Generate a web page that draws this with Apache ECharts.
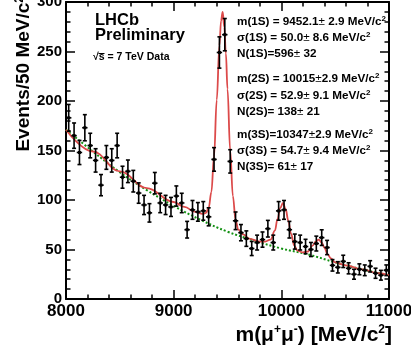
<!DOCTYPE html>
<html>
<head>
<meta charset="utf-8">
<script src="https://cdn.jsdelivr.net/npm/echarts/dist/echarts.min.js"></script>
<style>
html,body{margin:0;padding:0;background:#fff;}
#chart{width:411px;height:353px;}
</style>
</head>
<body>
<div id="chart"></div>
<script>
// ---- data ----
const binCenters = [8025,8075,8125,8175,8225,8275,8325,8375,8425,8475,8525,8575,8625,8675,8725,8775,8825,8875,8925,8975,
  9025,9075,9125,9175,9225,9275,9325,9375,9425,9475,9525,9575,9625,9675,9725,9775,9825,9875,9925,9975,
  10025,10075,10125,10175,10225,10275,10325,10375,10425,10475,10525,10575,10625,10675,10725,10775,10825,10875,10925,10975];
const events = [183,165,148,173,155,140,115,143,140,155,123,129,119,107,95,87,117,97,95,93,
  104,97,70,90,88,89,83,141,249,267,139,79,67,61,51,57,60,71,57,89,
  90,70,58,57,53,50,56,62,52,34,32,38,31,25,30,29,33,26,24,29];
const errors = [13.5,12.8,12.2,13.2,12.4,11.8,10.7,12.0,11.8,12.4,11.1,11.4,10.9,10.3,9.7,9.3,10.8,9.8,9.7,9.6,
  10.2,9.8,8.4,9.5,9.4,9.4,9.1,11.9,15.8,16.3,11.8,8.9,8.2,7.8,7.1,7.5,7.7,8.4,7.5,9.4,
  9.5,8.4,7.6,7.5,7.3,7.1,7.5,7.9,7.2,5.8,5.7,6.2,5.6,5.0,5.5,5.4,5.7,5.1,4.9,5.4];
const binHalfWidth = 25;

const fitMass = [8000,8250,8500,8750,9000,9100,9200,9270,9300,9325,9350,9375,9400,9425,9440,9455,9470,9485,9500,9525,9550,9575,9600,9650,9700,9800,9850,9900,9940,9965,9990,10015,10040,10065,10090,10120,10150,10200,10250,10290,10320,10347,10375,10400,10430,10460,10500,10600,10750,10900,11000];
const fitVals = [171,149,129,112,98,93,88,86,87,92,108,144,201,256,281,290,275,248,212,150,104,80,70,65,61,58,58,60,69,81,92,97,91,79,66,54,49,47,48,54,58,60,57,52,45,41,37,34,30,26,24];

const bkgMass = [8000,8250,8500,8750,9000,9250,9500,9750,10000,10250,10500,10750,11000];
const bkgVals = [171,149,128,110,94,80,68,59,51,45,37,30,24];

const xTicks = {min: 8000, max: 11000, step: 1000};
const yTicks = {min: 0, max: 300, step: 50};

const fitTexts = [
  'm(1S) = 9452.1{pm|±} 2.9 MeV/c{sup|2}',
  'σ(1S) = 50.0{pm|±} 8.6 MeV/c{sup|2}',
  'N(1S)=596{pm|±} 32',
  'm(2S) = 10015{pm|±}2.9 MeV/c{sup|2}',
  'σ(2S) = 52.9{pm|±} 9.1 MeV/c{sup|2}',
  'N(2S)= 138{pm|±} 21',
  'm(3S)=10347{pm|±}2.9 MeV/c{sup|2}',
  'σ(3S) = 54.7{pm|±} 9.4 MeV/c{sup|2}',
  'N(3S)= 61{pm|±} 17'
];
// ---------------------------------------

const FONT = '"Liberation Sans", Arial, Helvetica, sans-serif';
const chart = echarts.init(document.getElementById('chart'), null, {renderer: 'canvas'});

const pointData = binCenters.map((m, i) => [m, events[i], errors[i]]);
const fitData = fitMass.map((m, i) => [m, fitVals[i]]);
const bkgData = bkgMass.map((m, i) => [m, bkgVals[i]]);

function axisCommon(showLabel, fontSize) {
  return {
    axisLine: {show: true, onZero: false, lineStyle: {color: '#000', width: 2}},
    axisTick: {show: true, inside: true, length: 9, lineStyle: {color: '#000', width: 1.5}},
    minorTick: {show: true, splitNumber: 5, length: 4.5, lineStyle: {color: '#000', width: 1.5}},
    splitLine: {show: false},
    minorSplitLine: {show: false},
    axisLabel: {show: showLabel, color: '#000', fontFamily: FONT, fontWeight: 'bold', fontSize: fontSize, margin: 4,
      formatter: function (v) { return String(v); }}
  };
}

const graphics = [
  {type: 'text', left: 95, top: 12, style: {text: 'LHCb', font: 'bold 16.5px ' + FONT, fill: '#000'}},
  {type: 'text', left: 95, top: 27, style: {text: 'Preliminary', font: 'bold 16.5px ' + FONT, fill: '#000'}},
  {type: 'text', left: 93, top: 52, style: {text: '√s = 7 TeV Data', font: 'bold 10.5px ' + FONT, fill: '#000'}},
  {type: 'line', shape: {x1: 98.5, y1: 53.5, x2: 104.5, y2: 53.5}, style: {stroke: '#000', lineWidth: 1}}
];
const fitY = [22, 38, 54, 79, 96, 112, 135, 151, 167];
fitTexts.forEach((t, i) => {
  graphics.push({type: 'text', x: 237, y: fitY[i], style: {
    text: t, font: 'bold 11.7px ' + FONT, fill: '#000', verticalAlign: 'middle', align: 'left',
    rich: {
      sup: {fontSize: 8, fontWeight: 'bold', fontFamily: FONT, verticalAlign: 'top', fill: '#000', padding: [0, 0, 6, 0]},
      pm: {fontSize: 11.7, fontWeight: 'normal', fontFamily: FONT, fill: '#000'}
    }
  }});
});
// axis titles
graphics.push({type: 'text', x: 392, y: 335, style: {
  text: 'm(μ{sup|+}μ{sup|-}) [MeV/c{sup|2}]', font: 'bold 21px ' + FONT, fill: '#000', align: 'right', verticalAlign: 'middle',
  rich: {sup: {fontSize: 12, fontWeight: 'bold', fontFamily: FONT, fill: '#000', verticalAlign: 'top', padding: [0, 0, 10, 0]}}
}});
graphics.push({type: 'text', x: 24, y: -4, rotation: Math.PI / 2, style: {
  text: 'Events/50 MeV/c{sup|2}', font: 'bold 19px ' + FONT, fill: '#000', align: 'right', verticalAlign: 'middle',
  rich: {sup: {fontSize: 12, fontWeight: 'bold', fontFamily: FONT, fill: '#000', verticalAlign: 'top', padding: [0, 0, 9, 0]}}
}});

const option = {
  animation: false,
  backgroundColor: '#fff',
  grid: {left: 66, right: 22, top: 2, bottom: 54, containLabel: false, outerBoundsMode: 'none'},
  xAxis: [
    Object.assign({type: 'value', position: 'bottom', min: xTicks.min, max: xTicks.max, interval: xTicks.step}, axisCommon(true, 17)),
    Object.assign({type: 'value', position: 'top', min: xTicks.min, max: xTicks.max, interval: xTicks.step}, axisCommon(false, 17))
  ],
  yAxis: [
    Object.assign({type: 'value', position: 'left', min: yTicks.min, max: yTicks.max, interval: yTicks.step}, axisCommon(true, 15)),
    Object.assign({type: 'value', position: 'right', min: yTicks.min, max: yTicks.max, interval: yTicks.step}, axisCommon(false, 15))
  ],
  graphic: graphics,
  series: [
    {
      type: 'line', name: 'background', data: bkgData, xAxisIndex: 0, yAxisIndex: 0,
      smooth: 0.4, showSymbol: false, z: 2,
      lineStyle: {color: '#139113', width: 2, type: [2, 2]}
    },
    {
      type: 'line', name: 'fit', data: fitData, xAxisIndex: 0, yAxisIndex: 0,
      smooth: 0.4, smoothMonotone: 'x', showSymbol: false, z: 3,
      lineStyle: {color: '#dc4a4a', width: 1.8}
    },
    {
      type: 'custom', name: 'data', data: pointData, xAxisIndex: 0, yAxisIndex: 0, z: 5,
      renderItem: function (params, api) {
        const x = api.value(0), y = api.value(1), e = api.value(2);
        const c = api.coord([x, y]);
        const lo = api.coord([x, y - e]);
        const hi = api.coord([x, y + e]);
        const l = api.coord([x - binHalfWidth, y]);
        const r = api.coord([x + binHalfWidth, y]);
        const st = {stroke: '#000', lineWidth: 1.6};
        return {type: 'group', children: [
          {type: 'line', shape: {x1: c[0], y1: lo[1], x2: c[0], y2: hi[1]}, style: st},
          {type: 'line', shape: {x1: c[0] - 2, y1: lo[1], x2: c[0] + 2, y2: lo[1]}, style: st},
          {type: 'line', shape: {x1: c[0] - 2, y1: hi[1], x2: c[0] + 2, y2: hi[1]}, style: st},
          {type: 'line', shape: {x1: l[0], y1: c[1], x2: r[0], y2: c[1]}, style: st},
          {type: 'rect', shape: {x: c[0] - 1.5, y: c[1] - 1.5, width: 3, height: 3}, style: {fill: '#000'}}
        ]};
      }
    }
  ]
};
chart.setOption(option);
</script>
</body>
</html>
